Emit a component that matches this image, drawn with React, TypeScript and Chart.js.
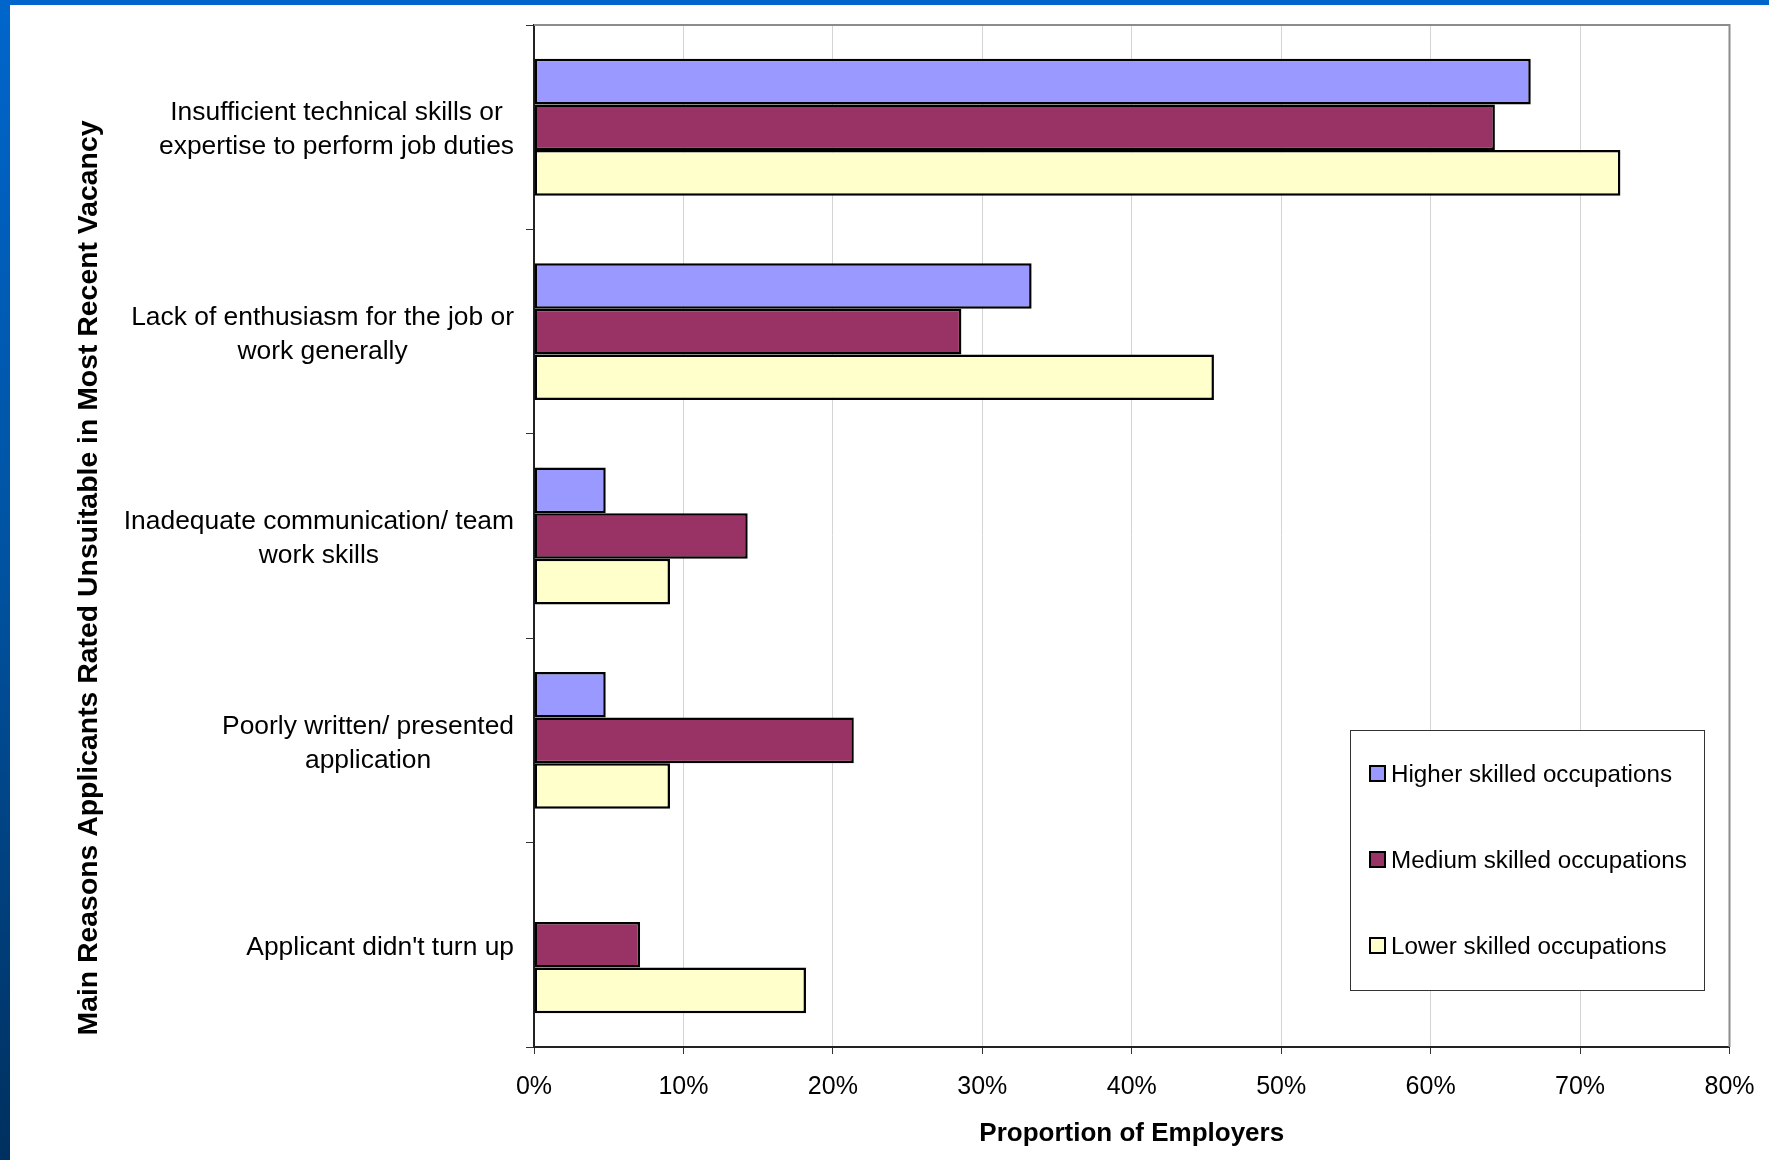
import React, { useEffect, useRef } from "react";
import { Chart, registerables } from "chart.js";

Chart.register(...registerables);

const categories: string[][] = [
  ["Insufficient technical skills or", "expertise to perform job duties"],
  ["Lack of enthusiasm for the job or", "work generally"],
  ["Inadequate communication/ team", "work skills"],
  ["Poorly written/ presented", "application"],
  ["Applicant didn't turn up"],
];

const higherSkilled: number[] = [66.7, 33.3, 4.8, 4.8, 0];
const mediumSkilled: number[] = [64.3, 28.6, 14.3, 21.4, 7.1];
const lowerSkilled: number[] = [72.7, 45.5, 9.1, 9.1, 18.2];

const seriesNames: string[] = [
  "Higher skilled occupations",
  "Medium skilled occupations",
  "Lower skilled occupations",
];
const seriesColors: string[] = ["#9999FF", "#993366", "#FFFFCC"];

const xTicks: number[] = [0, 10, 20, 30, 40, 50, 60, 70, 80];

const yTitle = "Main Reasons Applicants Rated Unsuitable in Most Recent Vacancy";
const xTitle = "Proportion of Employers";

const FONT = "'Liberation Sans', Arial, Helvetica, sans-serif";

const decorPlugin = {
  id: "decor",
  afterDraw(chart: any) {
    const ctx = chart.ctx as CanvasRenderingContext2D;
    const { left, right, top, bottom } = chart.chartArea;
    ctx.save();
    // top & right frame (gray)
    ctx.strokeStyle = "#8c8c8c";
    ctx.lineWidth = 2;
    ctx.beginPath();
    ctx.moveTo(left, top);
    ctx.lineTo(right, top);
    ctx.lineTo(right, bottom);
    ctx.stroke();

    // category labels (block right-aligned, lines centered)
    const yScale = chart.scales.y;
    const labels = chart.data.labels as string[][];
    ctx.font = `26.4px ${FONT}`;
    ctx.fillStyle = "#000";
    ctx.textBaseline = "middle";
    ctx.textAlign = "center";
    const lineH = 34;
    const rightEdge = left - 20;
    labels.forEach((lines, i) => {
      const cy = yScale.getPixelForTick(i) + 3;
      const widths = lines.map((l) => ctx.measureText(l).width);
      const w = Math.max(...widths);
      const cx = rightEdge - w / 2;
      lines.forEach((l, j) => {
        const y = cy + (j - (lines.length - 1) / 2) * lineH;
        ctx.fillText(l, cx, y);
      });
    });

    // y-axis title
    ctx.font = `bold 28.4px ${FONT}`;
    ctx.translate(89, 578);
    ctx.rotate(-Math.PI / 2);
    ctx.textAlign = "center";
    ctx.textBaseline = "middle";
    ctx.fillText(yTitle, 0, 0);
    ctx.restore();

    // legend
    ctx.save();
    const lx = 1350, ly = 730, lw = 354, lh = 260;
    ctx.fillStyle = "#fff";
    ctx.fillRect(lx, ly, lw, lh);
    ctx.strokeStyle = "#333";
    ctx.lineWidth = 1;
    ctx.strokeRect(lx + 0.5, ly + 0.5, lw, lh);
    const ys = [774, 860, 946];
    ctx.font = `24.2px ${FONT}`;
    ctx.textAlign = "left";
    ctx.textBaseline = "middle";
    chart.data.datasets.forEach((ds: any, i: number) => {
      const cy = ys[i];
      ctx.fillStyle = ds.backgroundColor;
      ctx.fillRect(1370, cy - 8, 15, 15);
      ctx.strokeStyle = "#000";
      ctx.lineWidth = 2;
      ctx.strokeRect(1370, cy - 8, 15, 15);
      ctx.fillStyle = "#000";
      ctx.fillText(ds.label, 1391, cy + 1.5);
    });
    ctx.restore();
  },
};

export default function App() {
  const ref = useRef<HTMLCanvasElement | null>(null);

  useEffect(() => {
    if (!ref.current) return;
    const data = [higherSkilled, mediumSkilled, lowerSkilled];
    const chart = new Chart(ref.current, {
      type: "bar",
      data: {
        labels: categories as any,
        datasets: seriesNames.map((name, i) => ({
          label: name,
          data: data[i],
          backgroundColor: seriesColors[i],
          borderColor: "#000",
          borderWidth: 2.5,
          borderSkipped: false,
          categoryPercentage: 0.67,
          barPercentage: 1.0,
        })),
      },
      options: {
        indexAxis: "y",
        responsive: false,
        animation: false,
        devicePixelRatio: 1,
        layout: { padding: { left: 0, top: 25, right: 39.5, bottom: 0 } },
        plugins: {
          legend: { display: false },
          tooltip: { enabled: false },
          title: { display: false },
        },
        scales: {
          x: {
            type: "linear",
            position: "bottom",
            min: 0,
            max: 80,
            afterFit(scale: any) {
              scale.height = 113;
              scale.paddingLeft = 0;
              scale.paddingRight = 0;
            },
            afterBuildTicks(scale: any) {
              scale.ticks = xTicks.map((v) => ({ value: v }));
            },
            ticks: {
              callback: (v: any) => `${v}%`,
              color: "#000",
              font: { family: FONT, size: 25 },
              padding: 18,
              maxRotation: 0,
              autoSkip: false,
            },
            grid: {
              color: "#d4d4d4",
              lineWidth: 1,
              tickColor: "#333",
              tickLength: 7,
              drawTicks: true,
            },
            border: { display: true, color: "#222", width: 2 },
            title: {
              display: true,
              text: xTitle,
              color: "#000",
              font: { family: FONT, size: 26, weight: "bold" },
              padding: { top: 0, bottom: 11 },
            },
          },
          y: {
            type: "category",
            position: "left",
            offset: true,
            afterFit(scale: any) {
              scale.width = 534;
            },
            ticks: { display: false },
            grid: {
              display: true,
              offset: true,
              drawOnChartArea: false,
              drawTicks: true,
              tickLength: 8,
              color: "#333",
              lineWidth: 1,
            },
            border: { display: true, color: "#222", width: 2 },
          },
        },
      },
      plugins: [decorPlugin],
    });
    return () => chart.destroy();
  }, []);

  return (
    <div
      style={{
        position: "absolute",
        left: 0,
        top: 0,
        width: 1769,
        height: 1160,
        background: "#fff",
        overflow: "hidden",
      }}
    >
      <canvas
        ref={ref}
        width={1769}
        height={1160}
        style={{ position: "absolute", left: 0, top: 0, width: 1769, height: 1160 }}
      />
      <div
        style={{
          position: "absolute",
          left: 0,
          top: 0,
          width: 1769,
          height: 5,
          background: "#0066CC",
        }}
      />
      <div
        style={{
          position: "absolute",
          left: 0,
          top: 0,
          width: 10,
          height: 1160,
          background: "linear-gradient(to bottom, #0066CC 0%, #0052A0 50%, #00305F 100%)",
        }}
      />
    </div>
  );
}
